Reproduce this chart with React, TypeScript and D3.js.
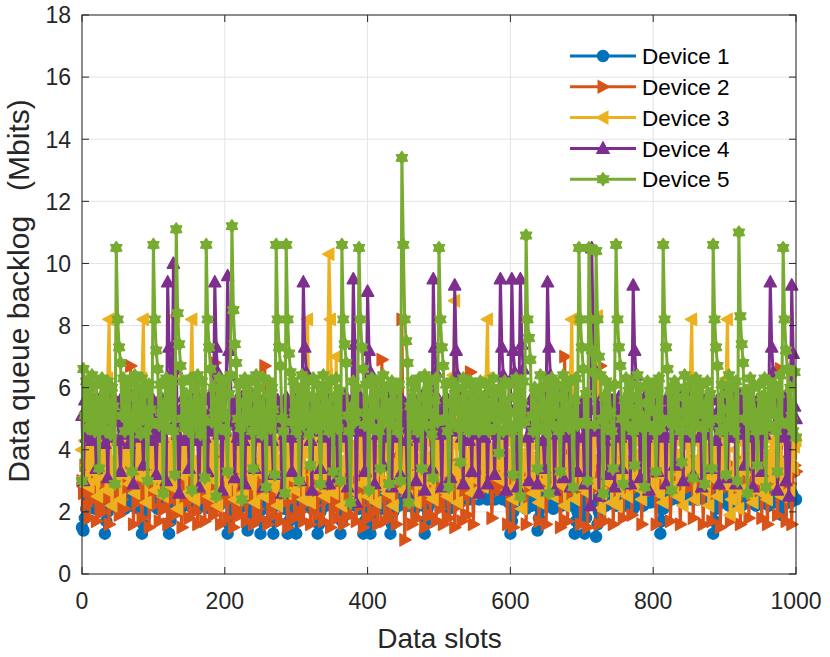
import * as d3 from 'd3'

// slot index of every stored sample (one sample every 2 data slots)
const slots = d3.range(0, 1001, 2)

const device1 = [
  1.5, 1.4, 1.8, 2.1, 2.4, 2.2, 2.6, 2.3, 2.5, 2.1, 2.6, 2.4, 2.2, 2.6, 2.3, 2.5, 1.3, 1.7, 2.0, 2.3, 2.5, 2.2, 2.6, 2.4, 2.3,
  2.6, 2.2, 2.5, 2.4, 2.6, 2.1, 2.5, 2.3, 2.6, 2.4, 2.2, 2.5, 2.6, 2.3, 2.5, 2.1, 2.6, 1.3, 1.6, 2.0, 2.3, 2.5, 2.2, 2.6, 2.4,
  2.5, 2.3, 2.6, 2.1, 2.4, 2.6, 2.2, 2.5, 2.4, 2.6, 2.3, 1.3, 1.7, 2.0, 2.2, 2.5, 2.3, 2.6, 2.4, 2.1, 2.5, 2.6, 2.3, 2.4, 2.6,
  2.2, 2.5, 2.4, 2.6, 2.3, 2.5, 2.1, 2.6, 2.4, 2.2, 2.5, 2.6, 2.3, 2.4, 2.6, 2.1, 2.5, 2.3, 2.6, 2.4, 2.2, 2.5, 2.6, 2.3, 2.5,
  2.4, 2.6, 1.3, 1.6, 1.9, 2.2, 2.4, 2.6, 2.3, 2.5, 2.1, 2.6, 2.4, 2.2, 2.5, 2.6, 1.4, 1.8, 2.1, 2.4, 2.6, 2.3, 2.5, 2.2, 2.6,
  1.3, 1.7, 2.1, 2.4, 2.6, 2.3, 2.5, 2.2, 2.6, 1.3, 1.8, 2.2, 2.5, 2.4, 2.6, 2.3, 2.5, 2.1, 2.6, 1.3, 1.7, 2.0, 2.3, 2.5, 2.6,
  1.3, 1.8, 2.1, 2.4, 2.6, 2.3, 2.5, 2.2, 2.6, 2.4, 2.5, 2.1, 2.6, 2.3, 2.5, 1.3, 1.6, 2.0, 2.3, 2.5, 2.6, 2.2, 2.4, 2.6, 2.3,
  2.5, 2.2, 2.6, 2.4, 2.3, 2.5, 1.3, 1.7, 2.0, 2.3, 2.6, 2.4, 2.5, 2.2, 2.6, 2.3, 2.5, 2.4, 2.6, 2.1, 2.5, 2.6, 1.3, 1.7, 2.1,
  2.4, 2.6, 1.3, 1.8, 2.2, 2.5, 2.3, 2.6, 2.4, 2.5, 2.1, 2.6, 2.3, 2.5, 2.4, 2.6, 1.3, 1.6, 2.0, 2.3, 2.5, 2.6, 2.2, 2.4, 2.6,
  2.3, 2.5, 2.6, 2.2, 2.4, 2.6, 2.3, 2.5, 2.1, 2.6, 2.4, 2.5, 2.3, 2.6, 2.2, 1.3, 1.7, 2.1, 2.4, 2.6, 2.3, 2.5, 2.6, 2.4, 2.5,
  2.6, 2.3, 2.5, 2.2, 2.6, 2.4, 2.5, 2.1, 2.6, 2.3, 2.5, 2.6, 2.4, 2.5, 2.6, 2.5, 2.4, 2.6, 2.5, 2.5, 2.6, 2.4, 2.5, 2.6, 2.5,
  2.5, 2.6, 2.5, 2.4, 2.6, 2.5, 2.5, 2.6, 2.5, 2.4, 2.6, 2.5, 2.5, 2.6, 2.4, 2.5, 2.6, 2.5, 2.5, 2.6, 2.4, 2.5, 2.6, 2.5, 2.3,
  1.3, 1.7, 2.0, 2.3, 2.5, 2.6, 2.2, 2.4, 2.6, 2.3, 2.5, 2.1, 2.6, 2.4, 2.5, 2.2, 2.6, 2.3, 2.5, 1.4, 1.8, 2.1, 2.4, 2.6, 2.3,
  2.5, 2.2, 2.6, 2.4, 2.5, 2.1, 2.6, 2.3, 2.5, 2.4, 2.6, 2.2, 2.5, 2.6, 2.3, 2.4, 2.6, 2.5, 2.2, 2.6, 1.3, 1.7, 2.0, 2.3, 2.5,
  2.6, 2.3, 1.3, 1.8, 2.2, 2.5, 2.4, 2.6, 2.3, 2.5, 1.2, 1.6, 2.0, 2.3, 2.5, 2.6, 2.4, 2.2, 2.6, 2.5, 2.3, 2.6, 2.4, 2.5, 2.2,
  2.6, 2.4, 2.5, 2.3, 2.6, 2.2, 2.5, 2.4, 2.6, 2.3, 2.5, 2.1, 2.6, 2.4, 2.5, 2.6, 2.3, 2.5, 2.2, 2.6, 2.4, 2.5, 2.6, 2.3, 2.5,
  2.6, 2.4, 2.5, 2.3, 2.6, 1.3, 1.7, 2.1, 2.4, 2.6, 2.5, 2.5, 2.6, 2.4, 2.5, 2.6, 2.5, 2.5, 2.6, 2.4, 2.5, 2.6, 2.5, 2.5, 2.6,
  2.5, 2.4, 2.6, 2.5, 2.5, 2.6, 2.4, 2.5, 2.6, 2.5, 2.5, 2.6, 2.4, 2.5, 2.6, 2.5, 2.3, 1.3, 1.7, 2.1, 2.4, 2.6, 2.5, 2.3, 2.6,
  2.4, 2.5, 2.6, 2.2, 2.5, 2.4, 2.6, 2.3, 2.5, 2.6, 2.4, 2.5, 2.2, 2.6, 2.4, 2.5, 2.6, 2.3, 2.5, 2.4, 2.6, 2.5, 2.2, 2.6, 2.4,
  2.5, 2.6, 2.3, 2.5, 2.4, 2.6, 2.2, 2.5, 2.6, 2.4, 2.5, 2.3, 2.6, 2.5, 2.4, 1.9, 2.2, 2.5, 2.6, 2.4, 2.5, 2.3, 2.6, 2.5, 2.4,
  2.4,
]

const device2 = [
  3.0, 2.6, 3.5, 2.2, 3.3, 1.8, 2.9, 3.6, 2.4, 3.2, 1.7, 2.7, 3.5, 2.3, 3.4, 2.0, 3.1, 3.7, 2.5, 1.6, 2.8, 3.3, 2.2, 3.6, 2.6,
  3.0, 1.9, 3.4, 2.4, 3.7, 2.1, 3.2, 2.7, 3.5, 6.7, 3.8, 1.6, 2.9, 3.3, 2.3, 3.6, 2.6, 1.8, 3.1, 3.5, 2.4, 3.4, 1.5, 2.8, 3.6,
  2.2, 3.3, 2.7, 3.7, 1.7, 3.0, 2.5, 3.5, 2.1, 3.2, 1.6, 2.8, 3.6, 2.4, 3.4, 1.9, 3.1, 2.6, 3.7, 2.2, 1.5, 2.9, 3.5, 2.3, 3.3,
  1.8, 3.0, 2.6, 3.6, 2.0, 3.4, 1.6, 2.7, 3.5, 2.4, 3.2, 1.7, 2.9, 3.7, 2.2, 3.3, 2.5, 1.9, 6.8, 3.8, 2.1, 3.4, 1.6, 2.8, 3.6,
  2.3, 3.2, 1.8, 3.5, 2.6, 3.0, 1.5, 2.8, 3.7, 2.2, 3.4, 1.9, 3.1, 2.5, 3.6, 1.7, 2.9, 3.3, 2.4, 3.5, 1.6, 2.7, 3.6, 2.1, 3.2,
  1.8, 3.0, 3.5, 6.7, 3.7, 1.6, 2.6, 3.4, 2.2, 3.1, 1.9, 3.6, 2.5, 3.3, 1.7, 2.8, 3.5, 2.3, 3.2, 1.5, 2.9, 3.7, 2.4, 3.0, 1.8,
  3.4, 2.6, 3.6, 2.0, 3.1, 1.7, 2.7, 3.5, 2.3, 3.3, 1.6, 2.9, 3.7, 2.2, 3.4, 1.9, 3.0, 2.5, 3.6, 1.7, 2.8, 3.2, 2.4, 3.5, 1.5,
  2.6, 3.3, 2.1, 3.7, 1.8, 3.0, 2.5, 3.5, 1.6, 2.8, 3.4, 2.3, 3.6, 1.9, 3.1, 2.7, 3.5, 1.7, 2.9, 3.3, 2.2, 3.7, 1.5, 3.0, 2.6,
  3.5, 1.8, 3.2, 2.4, 3.6, 2.0, 3.4, 1.6, 2.8, 3.7, 6.9, 3.5, 1.7, 3.0, 2.5, 3.6, 1.9, 3.3, 2.3, 3.5, 1.6, 2.9, 3.7, 3.8, 8.2,
  3.6, 1.1, 2.7, 3.4, 2.2, 3.6, 1.6, 3.1, 2.6, 3.5, 1.8, 2.9, 3.7, 2.3, 3.3, 1.5, 3.0, 2.5, 3.6, 1.9, 3.2, 2.4, 3.5, 1.7, 2.8,
  3.4, 2.1, 3.7, 1.6, 3.0, 2.6, 3.5, 1.8, 3.3, 2.4, 3.6, 1.5, 2.8, 3.2, 2.2, 3.5, 1.7, 3.0, 2.5, 3.7, 1.9, 3.4, 6.5, 3.6, 1.6,
  2.9, 3.5, 2.8, 3.3, 3.0, 3.6, 2.7, 3.2, 2.9, 3.7, 2.8, 3.4, 1.8, 3.0, 2.9, 3.6, 2.8, 3.3, 2.7, 3.1, 3.5, 2.9, 3.1, 1.6, 3.6,
  2.8, 3.2, 1.5, 2.9, 3.6, 2.8, 3.4, 3.0, 2.7, 3.3, 3.7, 1.6, 2.8, 3.3, 3.0, 3.5, 2.7, 3.1, 2.9, 3.6, 1.7, 2.9, 3.4, 2.8, 3.5,
  1.6, 3.0, 2.8, 3.6, 2.9, 3.3, 2.7, 3.5, 2.9, 3.1, 1.5, 2.9, 3.7, 7.0, 3.8, 1.7, 2.8, 3.4, 3.0, 3.6, 2.7, 3.2, 2.9, 3.5, 1.6,
  2.8, 3.4, 2.9, 3.7, 1.5, 3.0, 2.8, 3.5, 2.7, 3.2, 3.0, 3.6, 1.6, 6.7, 3.6, 2.9, 1.7, 3.3, 2.8, 3.5, 3.0, 3.7, 1.6, 3.1, 2.7,
  3.4, 2.8, 2.9, 3.6, 1.8, 3.3, 2.7, 3.0, 2.9, 3.5, 1.9, 3.2, 2.8, 3.7, 3.0, 2.8, 3.4, 1.6, 3.6, 2.9, 3.1, 2.7, 3.5, 2.9, 3.3,
  2.7, 3.6, 1.6, 3.0, 2.9, 3.5, 2.8, 3.3, 2.7, 3.7, 3.0, 3.1, 1.7, 2.8, 3.5, 2.9, 3.4, 2.8, 3.0, 1.6, 3.6, 2.7, 3.2, 2.9, 2.9,
  3.5, 2.8, 3.7, 1.8, 3.1, 2.9, 3.4, 2.7, 2.9, 3.6, 1.6, 3.2, 2.8, 3.5, 3.0, 3.7, 1.7, 3.0, 2.8, 3.4, 2.9, 3.6, 1.5, 2.8, 3.3,
  2.9, 3.6, 2.8, 3.1, 1.7, 3.5, 2.7, 2.9, 3.4, 3.0, 3.7, 1.6, 3.0, 2.8, 3.3, 2.9, 3.6, 1.8, 3.2, 2.7, 2.8, 3.5, 3.0, 3.4, 2.7,
  3.6, 1.8, 3.1, 2.8, 3.5, 1.6, 2.9, 3.7, 2.8, 3.3, 2.9, 3.5, 1.9, 3.0, 6.6, 3.7, 2.8, 3.4, 1.7, 2.8, 3.6, 2.9, 1.6, 3.2, 3.5,
  3.3,
]

const device3 = [
  4.0, 3.1, 4.3, 3.5, 4.1, 2.8, 3.9, 3.3, 4.4, 3.0, 4.2, 2.5, 3.8, 3.4, 4.3, 3.1, 4.0, 2.7, 6.3, 8.2, 4.5, 2.2, 3.7, 3.2, 4.2,
  3.5, 4.4, 2.4, 3.9, 3.2, 4.1, 3.6, 4.3, 2.9, 3.8, 3.3, 4.2, 2.6, 4.0, 3.4, 4.4, 3.1, 6.3, 8.2, 4.6, 2.3, 3.6, 3.1, 4.1, 3.5,
  4.3, 2.7, 3.9, 3.3, 4.2, 3.0, 4.4, 2.5, 3.8, 3.4, 4.1, 3.1, 4.3, 2.8, 6.3, 8.3, 4.5, 2.1, 3.6, 3.2, 4.0, 3.5, 4.4, 2.6, 3.9,
  3.3, 6.2, 8.2, 4.4, 2.4, 3.7, 3.1, 4.2, 3.5, 4.4, 2.8, 3.9, 3.3, 4.1, 2.5, 3.8, 3.4, 4.3, 3.0, 4.0, 2.2, 3.6, 3.2, 4.4, 3.5,
  4.1, 2.7, 3.9, 3.3, 4.3, 3.0, 4.2, 2.4, 3.7, 3.4, 4.4, 3.1, 4.0, 2.6, 3.8, 3.5, 4.3, 2.9, 4.1, 3.2, 4.4, 2.3, 3.6, 3.3, 4.2,
  3.6, 4.4, 2.5, 3.9, 3.1, 4.1, 3.4, 4.3, 2.8, 3.8, 3.3, 4.2, 2.2, 3.7, 3.5, 4.4, 3.0, 4.0, 2.6, 3.9, 3.4, 4.3, 3.1, 4.1, 2.7,
  3.8, 3.3, 4.4, 3.0, 4.2, 2.4, 3.9, 6.3, 8.2, 4.5, 2.3, 3.6, 3.2, 4.1, 3.5, 4.3, 2.8, 3.9, 3.4, 4.2, 2.5, 4.0, 6.4, 10.3, 8.2,
  4.4, 2.6, 3.8, 7.0, 4.3, 3.1, 4.1, 2.2, 3.7, 3.4, 4.4, 3.0, 4.0, 2.7, 3.9, 3.3, 4.2, 2.4, 3.6, 3.5, 4.3, 2.9, 4.1, 3.2, 4.4,
  2.5, 3.8, 3.4, 4.2, 3.0, 4.0, 2.3, 3.7, 3.3, 4.3, 2.8, 3.9, 3.5, 4.4, 2.6, 4.1, 3.1, 4.2, 2.2, 3.6, 3.4, 4.3, 3.0, 4.0, 2.7,
  3.8, 3.3, 4.4, 2.5, 3.9, 3.1, 4.2, 3.5, 4.3, 2.3, 3.7, 3.2, 4.1, 2.8, 4.0, 3.4, 4.4, 2.6, 3.8, 3.0, 4.2, 2.4, 3.9, 3.5, 4.3,
  3.1, 4.0, 2.7, 3.7, 3.3, 4.4, 2.5, 3.9, 3.4, 4.2, 6.4, 8.8, 4.6, 2.3, 3.6, 3.2, 4.1, 3.5, 4.3, 2.9, 3.8, 3.3, 4.4, 2.6, 4.0,
  3.4, 4.2, 3.0, 3.9, 3.5, 4.3, 2.8, 3.7, 6.3, 8.2, 4.5, 3.2, 4.1, 3.3, 4.4, 3.1, 3.8, 3.6, 4.2, 3.0, 4.0, 3.4, 4.3, 2.7, 3.9,
  3.3, 4.4, 2.4, 3.6, 3.2, 4.1, 3.5, 4.3, 2.1, 3.8, 3.4, 4.2, 2.9, 4.0, 3.1, 4.4, 2.6, 3.7, 3.5, 4.1, 2.3, 3.9, 3.3, 4.3, 3.0,
  4.0, 2.7, 3.8, 3.4, 4.4, 2.5, 3.6, 3.2, 4.2, 2.9, 3.9, 3.5, 4.3, 2.2, 3.7, 3.1, 4.1, 6.3, 8.2, 4.5, 2.4, 3.8, 3.3, 4.4, 2.8,
  3.6, 4.2, 3.2, 4.0, 2.6, 3.9, 3.5, 4.3, 2.9, 3.7, 6.4, 8.3, 4.6, 2.1, 2.6, 4.1, 3.0, 4.3, 3.3, 4.4, 3.6, 2.3, 3.8, 3.4, 4.2,
  2.2, 2.7, 4.0, 3.1, 4.3, 3.4, 4.4, 2.5, 3.7, 3.2, 4.1, 3.6, 4.3, 2.8, 3.9, 3.5, 4.4, 2.4, 3.6, 3.1, 4.2, 3.4, 4.0, 2.9, 3.8,
  4.3, 3.3, 4.1, 2.6, 3.9, 3.5, 4.4, 2.3, 3.7, 3.1, 4.2, 3.4, 4.0, 2.8, 3.8, 3.6, 4.3, 2.5, 3.9, 3.2, 4.4, 2.2, 3.6, 3.3, 4.1,
  3.5, 6.3, 8.2, 4.5, 2.4, 3.7, 3.2, 4.2, 3.5, 4.4, 2.7, 3.9, 3.4, 4.1, 2.2, 3.6, 3.1, 4.3, 3.5, 4.0, 2.5, 3.8, 3.3, 4.4, 2.9,
  3.9, 6.3, 8.2, 4.4, 1.9, 2.4, 3.1, 4.0, 3.4, 4.3, 2.1, 2.7, 3.6, 4.2, 3.3, 4.4, 2.6, 3.8, 3.5, 4.1, 2.3, 3.9, 3.2, 4.3, 3.0,
  4.2, 2.6, 3.7, 3.4, 4.4, 2.4, 3.9, 3.1, 4.3, 3.5, 4.1, 2.8, 3.8, 3.3, 4.4, 2.5, 3.6, 3.2, 4.2, 3.5, 4.3, 2.7, 3.9, 3.4, 4.1,
  4.3,
]

const device4 = [
  5.1, 3.0, 5.6, 4.4, 5.2, 4.7, 5.8, 4.3, 5.5, 4.9, 3.4, 5.3, 4.5, 5.7, 4.8, 5.2, 4.2, 5.6, 3.1, 5.0, 4.6, 5.8, 4.4, 5.3, 4.9,
  5.5, 4.3, 3.3, 5.7, 4.8, 5.1, 4.5, 5.8, 4.2, 5.4, 4.9, 2.9, 5.6, 4.6, 5.2, 4.4, 5.7, 4.8, 3.5, 5.3, 4.5, 5.8, 4.7, 5.1, 4.3,
  5.6, 4.8, 3.2, 5.4, 4.6, 5.7, 4.4, 5.2, 4.9, 3.0, 9.4, 7.3, 6.4, 4.7, 10.0, 7.4, 6.6, 4.5, 2.6, 5.3, 4.8, 5.7, 4.3, 5.5, 4.9,
  3.4, 5.6, 4.5, 5.2, 4.7, 5.8, 4.3, 2.8, 5.4, 4.9, 5.6, 4.4, 5.1, 3.3, 5.7, 4.6, 5.3, 4.8, 9.4, 7.3, 6.5, 4.5, 5.5, 2.7, 5.2,
  4.6, 5.8, 9.6, 7.2, 6.4, 4.8, 5.4, 3.1, 5.6, 4.4, 5.2, 4.9, 5.7, 4.3, 2.9, 5.5, 4.7, 5.3, 4.5, 5.8, 4.8, 3.4, 5.1, 4.6, 5.6,
  4.4, 5.3, 2.8, 5.7, 4.9, 5.2, 4.5, 5.8, 4.3, 3.2, 5.5, 4.7, 5.6, 4.8, 5.1, 2.6, 5.4, 4.5, 5.7, 4.9, 5.3, 4.4, 3.3, 5.6, 4.7,
  5.2, 4.5, 5.8, 3.0, 4.8, 9.4, 7.3, 6.5, 4.6, 5.5, 4.3, 2.7, 5.7, 4.9, 5.1, 4.6, 5.6, 3.4, 5.3, 4.4, 5.8, 4.7, 5.2, 2.9, 5.5,
  4.6, 5.6, 4.3, 5.2, 3.1, 5.7, 4.8, 5.4, 4.5, 5.8, 4.4, 2.8, 5.3, 4.9, 5.6, 9.5, 7.4, 2.3, 5.1, 4.6, 5.7, 4.8, 5.2, 3.3, 5.5,
  9.1, 7.2, 6.5, 4.7, 5.3, 2.9, 5.6, 4.5, 5.8, 4.8, 5.1, 3.5, 5.4, 4.4, 5.7, 4.9, 5.2, 2.8, 5.6, 4.6, 5.3, 4.4, 5.8, 3.2, 5.0,
  4.7, 5.5, 4.3, 2.6, 5.2, 4.8, 5.7, 4.5, 5.4, 3.0, 5.6, 4.4, 5.1, 4.9, 5.8, 2.7, 5.3, 4.6, 5.6, 4.8, 3.4, 9.5, 7.3, 6.5, 4.5,
  5.6, 4.8, 2.8, 5.3, 4.5, 5.7, 4.9, 5.2, 3.1, 5.5, 4.6, 9.3, 7.2, 6.4, 4.7, 5.8, 4.4, 2.9, 5.4, 4.8, 5.6, 4.3, 5.2, 3.3, 5.7,
  4.9, 5.3, 4.5, 2.6, 5.6, 4.8, 5.1, 4.4, 5.8, 2.9, 5.4, 4.6, 5.7, 4.9, 3.2, 5.2, 4.5, 5.6, 9.5, 7.3, 6.4, 4.7, 2.7, 5.5, 4.8,
  5.3, 9.5, 7.2, 6.5, 4.6, 2.8, 5.7, 9.5, 7.4, 6.6, 4.9, 5.2, 4.4, 3.0, 5.6, 4.7, 5.4, 4.5, 5.8, 2.9, 5.1, 4.8, 5.6, 4.3, 3.4,
  5.5, 9.4, 7.3, 6.4, 4.7, 5.3, 2.7, 5.6, 4.5, 5.8, 4.9, 5.2, 3.1, 5.4, 4.6, 5.7, 4.4, 2.8, 5.3, 4.8, 5.6, 4.5, 3.3, 5.5, 4.9,
  5.2, 4.4, 2.9, 5.7, 4.8, 5.4, 2.2, 10.5, 7.5, 6.6, 4.6, 5.3, 2.5, 5.6, 4.7, 5.2, 4.3, 5.8, 3.2, 5.4, 4.9, 5.6, 4.5, 2.8, 5.3,
  4.7, 5.7, 4.4, 3.4, 5.5, 4.8, 5.2, 4.5, 5.8, 2.9, 5.3, 9.3, 7.2, 6.4, 4.6, 5.6, 3.1, 5.2, 4.9, 5.7, 4.4, 5.4, 2.7, 5.6, 4.8,
  5.1, 4.5, 5.8, 3.3, 5.4, 4.7, 5.6, 4.4, 5.2, 2.9, 5.7, 4.8, 5.3, 4.5, 5.6, 3.5, 5.1, 4.6, 5.8, 4.9, 5.4, 3.0, 5.6, 4.4, 5.2,
  4.8, 5.7, 4.5, 3.2, 5.5, 4.9, 5.3, 4.4, 5.8, 2.8, 5.4, 4.7, 5.6, 4.5, 5.2, 3.4, 5.7, 4.8, 5.1, 4.3, 5.6, 2.9, 5.4, 4.9, 5.8,
  4.6, 5.3, 3.1, 5.6, 4.8, 5.2, 4.4, 5.7, 2.9, 5.5, 4.7, 5.8, 4.5, 5.3, 3.5, 5.6, 4.9, 5.1, 4.4, 5.7, 2.8, 5.4, 4.6, 5.6, 4.8,
  5.2, 3.3, 5.7, 4.5, 5.4, 4.9, 5.6, 9.4, 7.3, 6.5, 4.7, 5.3, 2.7, 5.6, 4.8, 5.2, 4.4, 5.7, 3.0, 5.5, 2.5, 4.8, 9.3, 7.1, 5.4,
  5.0,
]

const device5 = [
  3.0, 6.6, 5.1, 6.2, 4.7, 6.0, 4.9, 6.4, 5.3, 4.6, 6.1, 5.0, 3.4, 5.6, 6.3, 4.8, 5.9, 4.6, 6.2, 5.2, 4.5, 6.0, 5.4, 2.9, 10.5,
  8.2, 7.3, 6.8, 5.1, 6.3, 4.6, 5.9, 5.0, 6.2, 4.7, 3.3, 5.7, 6.4, 4.8, 6.0, 5.2, 4.5, 6.3, 5.0, 5.8, 4.6, 3.0, 6.1, 5.3, 4.9,
  10.6, 8.2, 7.2, 6.6, 4.8, 6.1, 5.2, 2.6, 5.5, 6.3, 4.7, 5.9, 5.1, 6.2, 4.6, 3.2, 11.1, 8.4, 7.4, 6.7, 5.0, 6.2, 4.7, 5.8, 5.3,
  4.6, 6.3, 2.7, 5.4, 6.0, 4.8, 6.4, 5.1, 4.5, 6.2, 5.0, 3.1, 10.6, 8.2, 7.3, 6.6, 4.9, 6.0, 5.2, 2.5, 5.6, 6.3, 4.7, 5.9, 5.1,
  6.2, 4.6, 3.3, 5.8, 6.4, 11.2, 8.5, 7.4, 6.8, 5.0, 6.1, 4.7, 2.4, 5.5, 6.3, 4.9, 5.9, 5.2, 6.2, 4.6, 3.4, 5.7, 6.4, 4.8, 6.0,
  5.1, 4.5, 6.3, 5.0, 2.8, 5.8, 6.2, 4.7, 6.0, 5.3, 3.2, 10.6, 8.2, 7.3, 6.7, 5.0, 4.6, 2.6, 10.6, 8.2, 7.1, 6.5, 4.9, 6.2, 5.2,
  4.6, 6.0, 3.0, 5.6, 6.4, 4.8, 5.9, 5.1, 6.2, 4.5, 3.5, 5.7, 6.3, 5.0, 4.7, 6.1, 5.3, 2.9, 5.8, 6.4, 4.8, 6.0, 5.1, 4.6, 6.2,
  5.0, 3.3, 5.7, 6.3, 4.7, 5.9, 3.0, 10.6, 8.2, 7.4, 6.8, 5.1, 4.6, 2.3, 5.4, 6.2, 4.9, 6.0, 5.2, 10.5, 8.2, 7.3, 6.6, 4.8, 6.1,
  5.0, 2.7, 5.6, 6.3, 4.7, 5.9, 5.2, 6.2, 4.6, 3.4, 5.8, 6.4, 4.9, 6.0, 5.1, 2.9, 5.5, 6.2, 4.8, 5.9, 5.3, 4.6, 6.1, 3.0, 13.4,
  10.6, 8.2, 7.5, 6.8, 2.3, 5.4, 6.2, 4.8, 6.0, 5.1, 4.6, 6.3, 5.0, 3.4, 5.7, 6.4, 4.8, 5.9, 5.2, 6.2, 4.5, 3.1, 5.6, 6.3, 4.9,
  10.5, 8.2, 7.3, 6.7, 5.0, 6.1, 4.6, 2.8, 5.5, 6.2, 4.9, 5.8, 5.3, 6.0, 4.7, 3.6, 5.6, 6.3, 4.8, 6.1, 5.1, 4.6, 6.2, 5.0, 5.8,
  4.7, 6.0, 5.2, 4.6, 6.2, 5.0, 5.7, 4.8, 6.1, 5.3, 4.6, 5.9, 5.1, 6.3, 4.7, 5.8, 5.2, 3.9, 6.0, 5.4, 4.6, 6.2, 5.0, 4.8, 6.1,
  5.2, 4.6, 3.2, 5.7, 6.3, 4.8, 5.9, 2.5, 5.5, 6.2, 4.9, 10.9, 8.2, 7.6, 6.9, 5.1, 4.6, 6.0, 5.3, 3.4, 5.8, 6.4, 4.7, 6.0, 5.1,
  4.6, 6.2, 2.6, 5.5, 6.3, 4.8, 5.9, 5.2, 6.1, 4.6, 3.3, 5.7, 6.4, 4.9, 6.0, 5.1, 4.7, 6.2, 5.0, 2.8, 5.6, 6.3, 4.8, 10.5, 8.2,
  7.3, 6.6, 4.9, 5.8, 3.0, 10.5, 8.2, 7.2, 6.5, 4.8, 10.4, 8.2, 7.0, 6.4, 5.0, 2.6, 5.7, 6.2, 4.7, 6.0, 5.2, 4.6, 3.4, 6.1, 10.6,
  8.2, 7.3, 6.7, 5.0, 2.9, 5.6, 6.3, 4.8, 5.9, 5.2, 6.1, 4.6, 3.5, 5.7, 6.4, 4.9, 6.0, 5.1, 4.7, 2.8, 5.5, 6.2, 4.8, 5.9, 5.3,
  6.1, 4.6, 3.3, 5.8, 6.3, 4.7, 5.0, 10.6, 8.2, 7.3, 6.6, 4.9, 5.9, 2.7, 5.5, 6.2, 4.8, 6.0, 5.2, 4.6, 3.6, 5.7, 6.4, 4.9, 6.0,
  5.1, 4.6, 6.2, 3.1, 5.6, 6.3, 4.8, 5.9, 5.2, 6.1, 4.7, 2.9, 5.5, 6.2, 4.9, 5.8, 3.4, 10.6, 8.2, 7.3, 6.7, 5.0, 4.6, 6.1, 5.3,
  4.7, 3.2, 5.8, 6.4, 4.9, 6.0, 5.1, 4.6, 6.2, 3.0, 11.0, 8.3, 7.4, 6.8, 5.0, 5.9, 2.6, 5.5, 6.3, 4.8, 6.0, 5.2, 4.6, 3.5, 6.1,
  5.0, 5.7, 4.7, 6.3, 2.8, 5.6, 6.2, 4.8, 5.9, 5.2, 6.1, 4.6, 3.3, 5.8, 6.4, 4.9, 10.5, 8.2, 7.2, 6.6, 4.8, 6.0, 5.1, 4.6, 6.5,
  4.4,
]

const deviceNames = ['Device 1', 'Device 2', 'Device 3', 'Device 4', 'Device 5']
const deviceColors = ['#0072BD', '#D95319', '#EDB120', '#7E2F8E', '#77AC30']
const deviceMarkers = ['circle', 'right', 'left', 'up', 'hexagram']
const yTicks = [0, 2, 4, 6, 8, 10, 12, 14, 16, 18]
const xTicks = [0, 200, 400, 600, 800, 1000]

// marker outline centred on 0,0
function markerPath(kind: string, r: number) {
  if (kind == 'circle') {
    return `M${-r},0A${r},${r} 0 1,0 ${r},0A${r},${r} 0 1,0 ${-r},0Z`
  }
  if (kind == 'hexagram') {
    const pts: [number, number][] = []
    for (let k = 0; k < 12; k++) {
      const a = -Math.PI / 2 + (k * Math.PI) / 6
      const rr = k % 2 == 0 ? r * 1.15 : r * 0.72
      pts.push([rr * Math.cos(a), rr * Math.sin(a)])
    }
    return d3.line()(pts) + 'Z'
  }
  const h = r * 1.15
  const w = r * 1.1
  if (kind == 'up') return `M0,${-h}L${w},${h * 0.75}L${-w},${h * 0.75}Z`
  if (kind == 'right') return `M${h},0L${-h * 0.75},${-w}L${-h * 0.75},${w}Z`
  return `M${-h},0L${h * 0.75},${-w}L${h * 0.75},${w}Z`
}

export default function App() {
  const W = 830, H = 657
  const margin = { top: 15, right: 34, bottom: 83, left: 82 }
  const x = d3.scaleLinear().domain([0, 1000]).range([margin.left, W - margin.right])
  const y = d3.scaleLinear().domain([0, 18]).range([H - margin.bottom, margin.top])
  const series = [device1, device2, device3, device4, device5]
  const line = d3.line<number>()
    .x((_, i) => x(slots[i]))
    .y(d => y(d))
  const font = "'Liberation Sans', Arial, Helvetica, sans-serif"
  const x0 = x(0), x1 = x(1000), y0 = y(0), y1 = y(18)
  const tickLen = 7
  const mr = 5.5

  return (
    <svg width={W} height={H} style={{ position: 'absolute', left: 0, top: 0, background: '#fff' }}
      fontFamily={font}>
      <rect x={0} y={0} width={W} height={H} fill="#fff" />
      {/* grid */}
      <g stroke="#e3e3e3" strokeWidth={1}>
        {yTicks.map(t => <line key={'gy' + t} x1={x0} x2={x1} y1={y(t)} y2={y(t)} />)}
        {xTicks.map(t => <line key={'gx' + t} x1={x(t)} x2={x(t)} y1={y0} y2={y1} />)}
      </g>
      {/* data */}
      <defs>
        <clipPath id="plotclip">
          <rect x={x0 - 8} y={y1} width={x1 - x0 + 16} height={y0 - y1} />
        </clipPath>
      </defs>
      <g clipPath="url(#plotclip)">
        {series.map((s, si) => (
          <g key={si}>
            <path d={line(s) || ''} fill="none" stroke={deviceColors[si]} strokeWidth={3}
              strokeLinejoin="round" />
            {s.map((v, i) => (
              <path key={i} transform={`translate(${x(slots[i])},${y(v)})`}
                d={markerPath(deviceMarkers[si], mr)} fill={deviceColors[si]}
                stroke={deviceColors[si]} strokeWidth={1.5} strokeLinejoin="round" />
            ))}
          </g>
        ))}
      </g>
      {/* box and ticks */}
      <g stroke="#262626" strokeWidth={1} fill="none">
        <rect x={x0} y={y1} width={x1 - x0} height={y0 - y1} />
        {yTicks.map(t => (
          <g key={'ty' + t}>
            <line x1={x0} x2={x0 + tickLen} y1={y(t)} y2={y(t)} />
            <line x1={x1} x2={x1 - tickLen} y1={y(t)} y2={y(t)} />
          </g>
        ))}
        {xTicks.map(t => (
          <g key={'tx' + t}>
            <line x1={x(t)} x2={x(t)} y1={y0} y2={y0 - tickLen} />
            <line x1={x(t)} x2={x(t)} y1={y1} y2={y1 + tickLen} />
          </g>
        ))}
      </g>
      <g fill="#262626" fontSize={23}>
        {yTicks.map(t => (
          <text key={'ly' + t} x={x0 - 11} y={y(t)} dy="0.36em" textAnchor="end">{t}</text>
        ))}
        {xTicks.map(t => (
          <text key={'lx' + t} x={x(t)} y={y0 + 35} textAnchor="middle">{t}</text>
        ))}
      </g>
      <text x={439.5} y={648} textAnchor="middle" fontSize={28} fill="#262626">Data slots</text>
      <text transform="translate(29,291) rotate(-90)" textAnchor="middle"
        fontSize={30} fill="#262626" style={{ whiteSpace: 'pre' }}>
        {'Data queue backlog   (Mbits)'}
      </text>
      {/* legend */}
      {deviceNames.map((name, i) => {
        const ly = 56 + i * 30.8
        return (
          <g key={name}>
            <line x1={570} x2={636} y1={ly} y2={ly} stroke={deviceColors[i]} strokeWidth={3} />
            <path transform={`translate(603,${ly})`} d={markerPath(deviceMarkers[i], mr)}
              fill={deviceColors[i]} stroke={deviceColors[i]} strokeWidth={1.5} />
            <text x={642} y={ly} dy="0.36em" fontSize={22.5} fill="#000">{name}</text>
          </g>
        )
      })}
    </svg>
  )
}
